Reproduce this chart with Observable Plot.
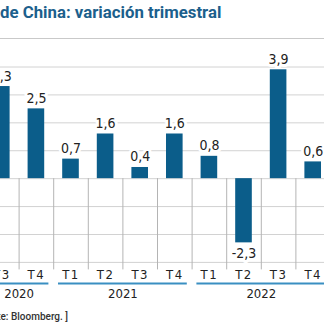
<!DOCTYPE html>
<html>
<head>
<meta charset="utf-8">
<script src="https://cdn.jsdelivr.net/npm/d3@7"></script>
<script src="https://cdn.jsdelivr.net/npm/@observablehq/plot@0.6"></script>
<style>
  body { margin: 0; background: #fff; }
  #wrap { width: 324px; height: 324px; overflow: hidden; position: relative; background: #fff; }
  #head { height: 38px; border-bottom: 1.5px solid #c9c9c9; white-space: nowrap; overflow: hidden; }
  #title { font: 700 16.8px Roboto, "Liberation Sans", sans-serif; color: #1c5f8c; line-height: 20px; padding-top: 2px; white-space: nowrap; }
  #chart { margin-left: -16.3px; width: 346px; height: 262.5px; }
  #chart svg { max-width: none !important; }
  #foot { font: 500 10px Roboto, "Liberation Sans", sans-serif; color: #333; line-height: 12px; padding-top: 9px; white-space: nowrap; }
</style>
</head>
<body>
<div id="wrap">
  <div id="head"><div id="title">PIB de China: variación trimestral</div></div>
  <div id="chart"></div>
  <div id="foot">Fuente: Bloomberg. ]</div>
</div>
<script>
// ---- data ----
const years = [2020, 2020, 2021, 2021, 2021, 2021, 2022, 2022, 2022, 2022];
const quarters = ["T3", "T4", "T1", "T2", "T3", "T4", "T1", "T2", "T3", "T4"];
const values = [3.3, 2.5, 0.7, 1.6, 0.4, 1.6, 0.8, -2.3, 3.9, 0.6];
const yTicks = [-3, -2, -1, 0, 1, 2, 3, 4];
const yearLabels = [2020, 2021, 2022];

// ---- layout helpers ----
function textWidth(str, font) {
  const c = document.createElement("canvas").getContext("2d");
  c.font = font;
  return c.measureText(str).width;
}
document.getElementById("title").style.marginLeft =
  -textWidth("PIB ", "700 16.8px Roboto") + "px";
document.getElementById("foot").style.marginLeft =
  -(textWidth("Fuent", "500 10px Roboto") - 0.5) + "px";

const data = quarters.map((q, i) => ({key: years[i] + " " + q, q, year: years[i], v: values[i]}));
const keys = data.map(d => d.key);
const step = 34.6;
const W = step * keys.length;
const fmt = v => v.toFixed(1).replace(".", ",");
const yMin = d3.min(yTicks), yMax = d3.max(yTicks);

const groups = yearLabels.map(y => {
  const ks = data.filter(d => d.year === y).map(d => d.key);
  return {year: String(y), first: ks[0], last: ks[ks.length - 1], n: ks.length};
});

const barColor = "#0b5d8a";
const lineBlue = "#3a8fc2";

const marks = [
  Plot.ruleY(yTicks, {stroke: "#d2d2d2", strokeWidth: 1}),
  Plot.ruleX(keys, {x: d => d, dx: -step / 2, y1: 0, y2: yMin, insetBottom: -7.5, stroke: "#b4b4b4", strokeWidth: 1}),
  Plot.barY(data, {x: "key", y: "v", fill: barColor}),
  Plot.text(data.filter(d => d.v >= 0), {x: "key", y: "v", text: d => fmt(d.v), lineAnchor: "bottom", dy: -6,
    fontSize: 14, fill: "#222", stroke: "white", strokeWidth: 6}),
  Plot.text(data.filter(d => d.v < 0), {x: "key", y: "v", text: d => fmt(d.v), lineAnchor: "top", dy: 5,
    fontSize: 14, fill: "#222", stroke: "white", strokeWidth: 6}),
  Plot.text(data, {x: "key", text: "q", frameAnchor: "bottom", lineAnchor: "middle", dy: 12, fontSize: 13,
    fill: "#222", className: "qlab"}),
  ...groups.map(g => Plot.ruleY([g], {x1: "first", x2: "last", y: () => yMin, dy: 21,
    insetLeft: -4.2, insetRight: -4.2, stroke: lineBlue, strokeWidth: 2})),
  ...groups.map(g => Plot.text([g], {x: "first", text: "year", frameAnchor: "bottom", lineAnchor: "middle",
    dy: 31, dx: (g.n - 1) * step / 2, fontSize: 13, fill: "#222"}))
];

const chart = Plot.plot({
  width: W,
  height: 262.5,
  marginTop: 27.5,
  marginBottom: 39.6,
  marginLeft: 0,
  marginRight: 0,
  style: {fontFamily: "'Liberation Sans Narrow', 'DejaVu Sans Condensed', sans-serif", background: "transparent", overflow: "visible", maxWidth: "none"},
  x: {domain: keys, paddingInner: 0.52, paddingOuter: 0.26, round: false, axis: null},
  y: {domain: [yMin, yMax], axis: null},
  marks
});
const st = document.createElement("style");
st.textContent = ".qlab text { letter-spacing: 1.5px; }";
document.head.appendChild(st);
document.getElementById("chart").appendChild(chart);
</script>
</body>
</html>
